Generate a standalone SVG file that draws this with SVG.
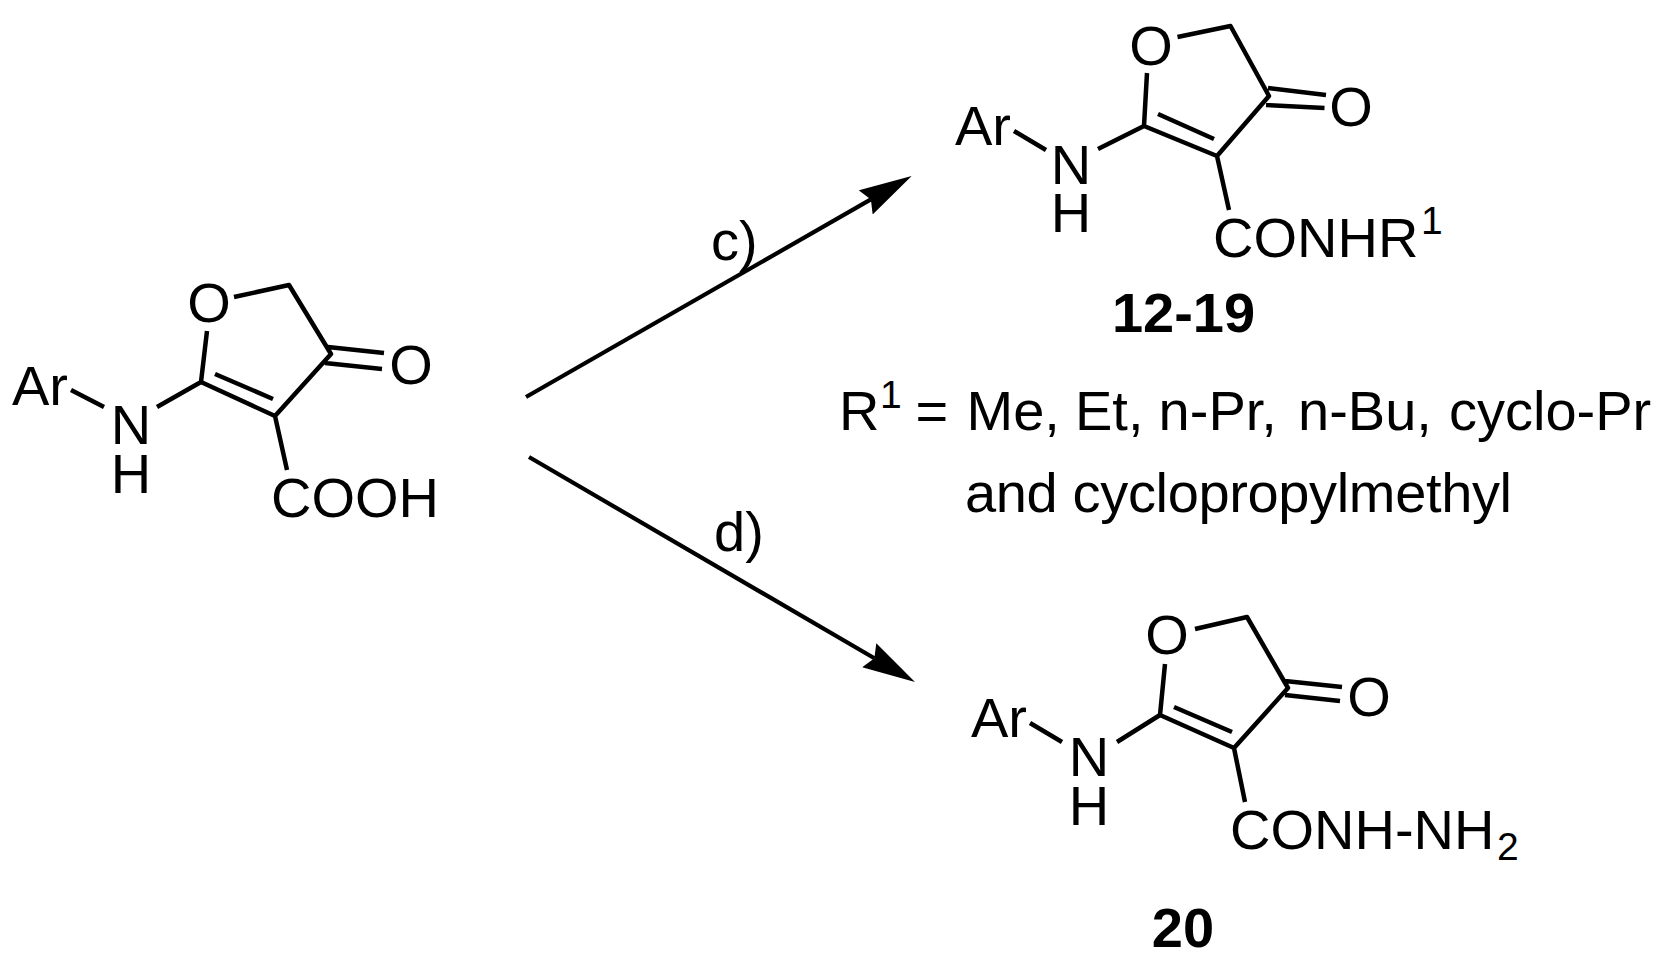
<svg xmlns="http://www.w3.org/2000/svg" width="1671" height="974" viewBox="0 0 1671 974">
<style>
text{font-family:"Liberation Sans",Arial,sans-serif;font-size:56px;fill:#000}
.m{text-anchor:middle}
.b{font-weight:bold}
.s{font-size:39px}
.bond{fill:none;stroke:#000;stroke-width:4.5;stroke-linecap:butt;stroke-linejoin:round}
.arrow{fill:none;stroke:#000;stroke-width:4.2;marker-end:url(#head)}
</style>
<defs>
<marker id="head" markerUnits="userSpaceOnUse" viewBox="0 0 53 28" markerWidth="53" markerHeight="28" refX="6" refY="14" orient="auto">
<polygon points="0,0 53,14 0,28 6,14" fill="#000"/>
</marker>
</defs>
<rect width="1671" height="974" fill="#fff"/>
<g id="connectors">
<path class="arrow" d="M526,397L870.9,199.4"/>
<path class="arrow" d="M529,457L874.4,658.3"/>
</g>
<g id="reagent-c"><text x="711" y="260">c)</text></g>
<g id="reagent-d"><text x="714" y="551">d)</text></g>
<g id="acid">
<path class="bond" d="M71,390L104,407M157,407L201,382L207,331M234,297L289,285L331,354L275,416L201,382M215,374L273,399M275,416L287,470M328,347L384,353M325,363L382,369"/>
<text x="12" y="405">Ar</text>
<text class="m" x="131" y="444">N</text>
<text class="m" x="131" y="493">H</text>
<text class="m" x="209" y="322">O</text>
<text class="m" x="411" y="384">O</text>
<text x="271" y="517">COOH</text>
</g>
<g id="amide">
<path class="bond" d="M1014,131L1046,150M1098,149L1144,126L1147,73M1177.5,37L1230.5,26L1269,96L1217,156L1144,126M1158,114L1214,139M1217,156L1229,210M1268,88L1326,95M1266,105L1324.5,108"/>
<text x="955" y="145">Ar</text>
<text class="m" x="1071" y="184">N</text>
<text class="m" x="1071" y="232">H</text>
<text class="m" x="1151" y="65">O</text>
<text class="m" x="1351" y="126">O</text>
<text x="1213" y="257">CONHR</text>
<text class="s" x="1421" y="234">1</text>
<text class="m b" x="1183.5" y="332">12-19</text>
</g>
<g id="r-groups">
<text x="839" y="430">R</text>
<text class="s" x="880" y="408">1</text>
<text y="430"><tspan x="915.5">=</tspan> <tspan x="966.5">Me,</tspan> <tspan x="1075">Et,</tspan> <tspan x="1158.6">n-Pr,</tspan> <tspan x="1298">n-Bu,</tspan> <tspan x="1449">cyclo-Pr</tspan></text>
<text x="965" y="512" letter-spacing="-0.35">and cyclopropylmethyl</text>
</g>
<g id="hydrazide">
<path class="bond" d="M1030,723L1062,742M1117,742L1160,715L1165,664M1195,629L1247,617L1288,688L1234,748L1160,715M1174,707L1232,732M1234,748L1245,802M1285,681L1342,687M1285,695L1340,701"/>
<text x="971" y="737">Ar</text>
<text class="m" x="1089" y="776">N</text>
<text class="m" x="1089" y="825">H</text>
<text class="m" x="1167" y="654">O</text>
<text class="m" x="1369" y="716">O</text>
<text x="1230" y="849">CONH-NH</text>
<text class="s" x="1497" y="860">2</text>
<text class="m b" x="1183" y="947">20</text>
</g>
</svg>
